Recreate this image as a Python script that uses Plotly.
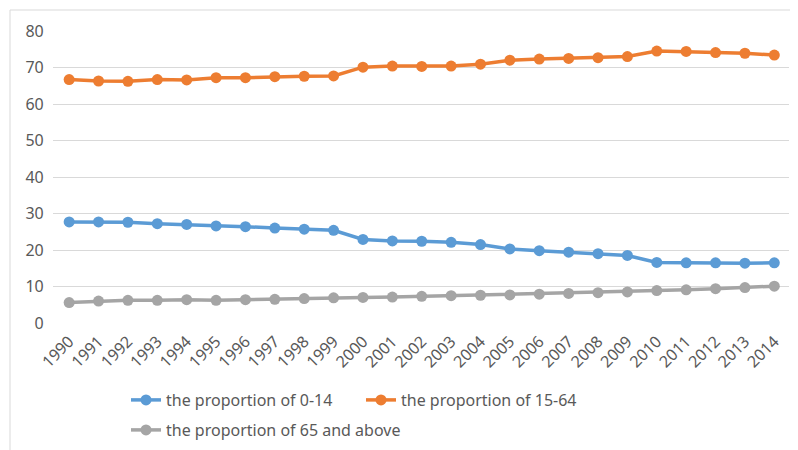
import plotly.graph_objects as go

years = [str(y) for y in range(1990, 2015)]
p0_14 = [27.7, 27.7, 27.6, 27.2, 27.0, 26.6, 26.4, 26.0, 25.7, 25.4, 22.9, 22.5, 22.4, 22.1, 21.5,
         20.3, 19.8, 19.4, 19.0, 18.5, 16.6, 16.5, 16.5, 16.4, 16.5]
p15_64 = [66.7, 66.3, 66.2, 66.7, 66.6, 67.2, 67.2, 67.5, 67.6, 67.7, 70.1, 70.4, 70.3, 70.4, 70.9,
          72.0, 72.3, 72.5, 72.7, 73.0, 74.5, 74.4, 74.1, 73.9, 73.4]
p65 = [5.6, 6.0, 6.2, 6.2, 6.4, 6.2, 6.4, 6.5, 6.7, 6.9, 7.0, 7.1, 7.3, 7.5, 7.6,
       7.7, 7.9, 8.1, 8.3, 8.5, 8.9, 9.1, 9.4, 9.7, 10.1]
names = ["the proportion of 0-14", "the proportion of 15-64", "the proportion of 65 and above"]
colors = ["#5B9BD5", "#ED7D31", "#A5A5A5"]
legends = ["legend", "legend", "legend2"]

fig = go.Figure()
for name, vals, c, lg in zip(names, [p0_14, p15_64, p65], colors, legends):
    fig.add_trace(go.Scatter(
        x=years, y=vals, name=name, mode="lines+markers", legend=lg,
        line=dict(color=c, width=3.5), marker=dict(color=c, size=11),
    ))

# screen coordinates of the plot area (page body has an 8px offset)
OFF = 8
PL, PR, PT, PB = 53, 789, 31, 323
pw = PR - PL
ph = PB - PT

def px(x):
    return (x - PL) / pw

def py(y):
    return (PB - y) / ph

leg_font = dict(size=16, color="#595959")

fig.update_layout(
    width=798 - OFF, height=450 - OFF,
    margin=dict(l=PL - OFF, r=798 - PR, t=PT - OFF, b=450 - PB, autoexpand=False),
    paper_bgcolor="white", plot_bgcolor="white",
    font=dict(family="Noto Sans", size=15, color="#595959"),
    xaxis=dict(type="category", tickangle=-45, showgrid=False, showline=False, zeroline=False,
               ticks="", tickfont=dict(size=16, color="#595959"), range=[-0.55, 24.5],
               automargin=False, ticklabelstandoff=5),
    yaxis=dict(range=[0, 80], dtick=10, showgrid=True, gridcolor="#D9D9D9", gridwidth=1,
               zeroline=False, showline=False, ticks="", tickfont=dict(size=16, color="#595959"),
               ticksuffix="  ", automargin=False),
    showlegend=True,
    legend=dict(orientation="h", x=px(126), y=py(400), xanchor="left", yanchor="middle",
                entrywidth=190, entrywidthmode="pixels", font=leg_font, itemwidth=30,
                bgcolor="rgba(0,0,0,0)"),
    legend2=dict(orientation="h", x=px(126), y=py(430), xanchor="left", yanchor="middle",
                 font=leg_font, itemwidth=30, bgcolor="rgba(0,0,0,0)"),
)

# chart border (top and left visible)
fig.add_shape(type="line", xref="paper", yref="paper",
              x0=px(10), x1=px(800), y0=py(10), y1=py(10),
              line=dict(color="#D9D9D9", width=1))
fig.add_shape(type="line", xref="paper", yref="paper",
              x0=px(10), x1=px(10), y0=py(10), y1=py(452),
              line=dict(color="#D9D9D9", width=1))

fig.write_html("out.html")
